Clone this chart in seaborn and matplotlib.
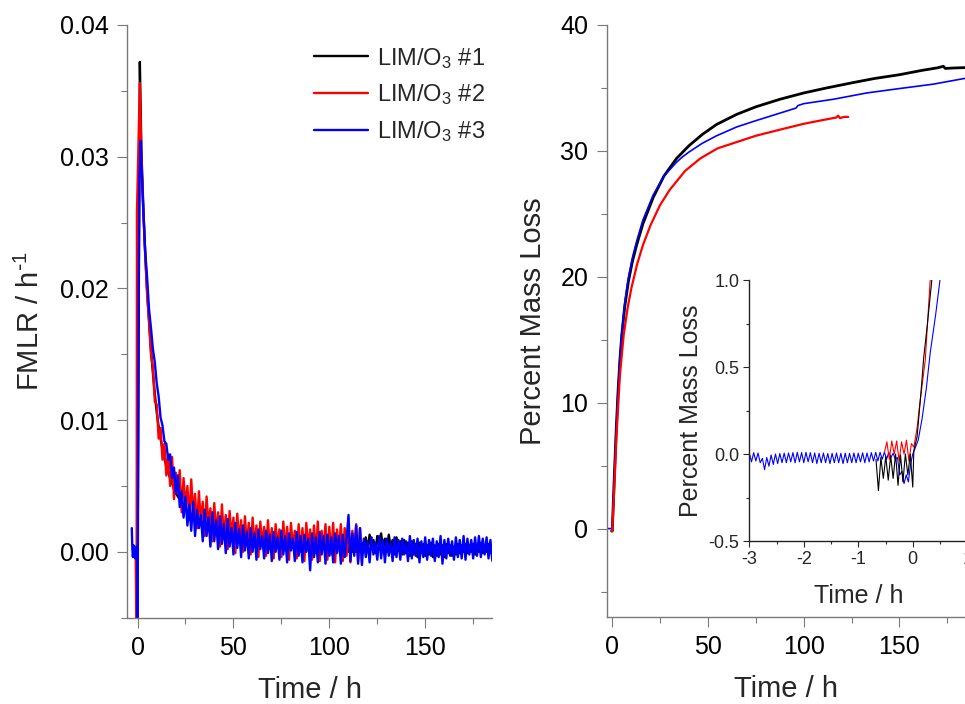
import numpy as np
import pandas as pd
import seaborn as sns
import matplotlib.pyplot as plt
from matplotlib.ticker import MultipleLocator, FormatStrFormatter

sns.set_style("ticks")
plt.rcParams["font.family"] = ["Liberation Sans", "DejaVu Sans"]
plt.rcParams["mathtext.default"] = "regular"
plt.rcParams["axes.unicode_minus"] = False

RUNS = ["LIM/O$_3$ #1", "LIM/O$_3$ #2", "LIM/O$_3$ #3"]
COLORS = ["#000000", "#ff0000", "#0000ff"]

# ---- FMLR (left panel), values in 1e-4 / h ----
# head: irregular points around t = 0, body: one reading per hour from t = 2 h
FMLR1_T_HEAD = [-0.5, 0.0, 1.2]
FMLR1_HEAD = [0, -20, 372]
FMLR1_BODY = [
    305, 262, 226, 198, 174, 153, 136, 120, 106, 95, 86, 78, 71, 65, 60, 56, 52, 48, 45,
    42, 40, 37, 35, 33, 31, 30, 28, 27, 25,
    28, 20, 26, 18, 24, 17, 23, 15, 21, 14, 20, 13, 19, 12, 18, 11, 17, 10, 16, 10,
    15, 9, 15, 8, 14, 8, 13, 7, 13, 7, 12, 6, 12, 6, 11, 5, 11, 5, 11, 4,
    10, 4, 10, 4, 10, 3, 10, 3, 9, 3, 9, 2, 9, 2, 9, 2, 9, 2, 8, 2,
    8, 1, 8, 1, 8, 1, 8, 1, 8, 1, 8, 1, 8, 1, 7, 1, 7, 0, 7, 0,
    7, 0, 7, 0, 7, 0, 7,
    2, 11, 1, 13, 3, 9, -1, 12, 4, 14, 2, 10, 0, 13, 3, 9, -2, 11, 1, 8,
    -2, 9, -1, 7, -3, 8, -2, 6, -4, 7, -1, 6, -3, 5, -2, 7, -4, 5, -3, 6,
    -2, 5, -4, 6, -1, 5, -3, 4, -2, 6, -1, 5, 0, 6, -1, 5, 0, 6, -2, 5,
    0, 7, -1, 5, 0, 6, -1, 4,
]
FMLR2_T_HEAD = [-1.0, -0.5, -0.3, 1.2]
FMLR2_HEAD = [0, -70, 258, 356]
FMLR2_BODY = [
    300, 258, 226, 195, 176, 150, 140, 114, 112, 86, 94, 70, 82, 58, 74, 50, 72, 40, 60,
    44, 62, 30, 56, 34, 50, 24, 55, 28, 44, 18, 46, 22, 38, 12, 42, 20, 33, 8, 37,
    14, 30, 4, 36, 10, 28, 2, 31, 12, 26, -1, 29, 8, 24, 0, 27, 5, 22, -2, 26,
    4, 20, -4, 23, 6, 19, -3, 24, 2, 18, -5, 21, 4, 17, -4, 23, 1, 19, -6, 22,
    3, 16, -5, 21, 0, 18, -7, 22, 2, 17, -6, 20, -1, 23, -7, 16, 3, 21, -6, 19,
    -2, 22, -8, 17, 1, 21, -7, 18, -3, 22, -8, 16, 0, 21, -7, 18, -8,
]
FMLR3_T_HEAD = [-3.0, -2.7, -2.4, -2.1, -1.8, -1.5, -1.2, -0.9, -0.6, -0.3, 0.0, 0.6, 1.0, 1.7]
FMLR3_HEAD = [18, 2, -4, 5, -3, 4, -5, 3, -2, 4, -75, 200, 285, 312]
FMLR3_BODY = [
    295, 260, 228, 208, 184, 170, 154, 144, 128, 118, 102, 96, 84, 82, 70, 74, 56, 64, 44,
    58, 34, 46, 26, 42, 20, 36, 16, 38, 12, 32, 18, 28, 8, 32, 12, 26, 4, 30, 8,
    24, 2, 27, 6, 21, -1, 25, 4, 18, -2, 22, 3, 17, -4, 20, 1, 15, -5, 18, 0,
    14, -6, 17, 2, 12, -5, 16, -1, 13, -7, 15, 0, 11, -6, 16, -2, 12, -8, 14, 1,
    10, -7, 15, -3, 12, -8, 13, 0, 10, -14, 14, -4, 11, -8, 15, -2, 12, -9, 13, -3,
    11, -8, 14, -1, 12, -9, 13, -4, 10, 28, -7, 14, -3, 20, -9, 18, -10,
    10, -4, 8, -8, 11, -2, 7, -6, 12, -5, 9, -8, 10, -3, 7, -7, 11, -4, 9, -6,
    10, -2, 8, -7, 12, -5, 9, -3, 10, -8, 8, -4, 11, -6, 9, -3, 10, -7, 8, -4,
    12, -9, 9, -5, 10, -3, 8, -6, 11, -4, 9, -5, 12, -6, 10, -2, 9, -5, 11, -3,
    12, -4, 10, -2, 11, -5, 9, -7,
]

# ---- cumulative percent mass loss (right panel) ----
ML1_T = [-0.3, 0, 1, 2, 3, 4, 5, 6.5, 8.4, 10.5, 12.7, 16, 21.4, 27, 33.6, 40, 47, 54.5,
         65, 75, 87.6, 100, 112, 125, 137, 150, 162, 170, 173, 174, 178, 185]
ML1 = [-0.2, -0.2, 3.8, 7.6, 10.8, 13.4, 15.4, 17.6, 19.6, 21.2, 22.5, 24.2, 26.3, 28.0,
       29.4, 30.4, 31.3, 32.1, 32.9, 33.5, 34.1, 34.6, 35.0, 35.4, 35.75, 36.05, 36.4,
       36.6, 36.72, 36.55, 36.58, 36.62]
ML2_T = [-0.3, 0, 1, 2.3, 4, 6, 8, 10, 13, 16, 20, 25, 30, 38, 46, 55, 65, 75, 88, 100,
         110, 117, 118, 119, 121, 123.3]
ML2 = [-0.2, -0.2, 3.0, 7.6, 12.2, 15.4, 17.5, 19.1, 21.0, 22.5, 24.1, 25.7, 26.9, 28.4,
       29.4, 30.2, 30.7, 31.2, 31.7, 32.15, 32.45, 32.65, 32.8, 32.6, 32.7, 32.7]
ML3_T = [-3.0, -0.3, 0, 1, 2, 3, 4, 5, 6.5, 8.4, 10.5, 12.7, 16, 21.4, 27, 33.6, 36.5, 40,
         47, 54.5, 65, 75, 87.6, 96, 97, 100, 115.5, 132.9, 150, 167.7, 185]
ML3 = [0.0, 0.0, -0.2, 3.8, 7.6, 10.9, 13.5, 15.6, 17.9, 19.9, 21.5, 22.8, 24.5, 26.5,
       28.0, 29.1, 29.5, 29.9, 30.6, 31.2, 31.9, 32.4, 33.0, 33.4, 33.6, 33.75, 34.1,
       34.6, 34.95, 35.3, 35.78]

# ---- inset: percent mass loss around t = 0 ----
INSET1_T = [-0.675, -0.63, -0.585, -0.54, -0.495, -0.45, -0.405, -0.36, -0.315, -0.27,
            -0.225, -0.18, -0.135, -0.09, -0.045, 0.0, 0.02, 0.08, 0.15, 0.2, 0.27, 0.35, 0.4]
INSET1 = [-0.03, -0.21, -0.02, -0.14, -0.015, -0.15, -0.01, -0.14, 0.0, -0.18, -0.005,
          -0.16, 0.0, -0.12, 0.0, -0.19, 0.02, 0.1, 0.35, 0.55, 0.75, 1.0, 1.15]
INSET2_T = [-0.52, -0.475, -0.43, -0.385, -0.34, -0.295, -0.25, -0.205, -0.16, -0.115,
            -0.07, -0.025, 0.02, 0.08, 0.13, 0.23, 0.32, 0.38]
INSET2 = [0.01, 0.07, -0.03, 0.075, 0.0, 0.075, -0.04, 0.07, 0.0, 0.08, -0.04, 0.06,
          0.04, 0.15, 0.29, 0.54, 1.0, 1.15]
INSET3_T_TAIL = [0.0, 0.04, 0.1, 0.17, 0.25, 0.32, 0.42, 0.5, 0.6]
INSET3_TAIL = [0.0, 0.03, 0.08, 0.2, 0.38, 0.58, 0.8, 1.0, 1.2]
INSET3_STEADY = [  # readings every 0.04 h from -3.00 h
    0.005, -0.045, 0.008, -0.04, 0.006, -0.05, -0.025, -0.09, -0.02, -0.07,
    -0.005, -0.06, 0.0, -0.055, 0.003, -0.05, 0.005, -0.05, 0.006, -0.045,
    0.008, -0.05, 0.01, -0.045, 0.008, -0.05, 0.01, -0.045, 0.008, -0.05,
    0.006, -0.055, 0.004, -0.05, 0.006, -0.05, 0.003, -0.055, 0.004, -0.05,
    0.006, -0.05, 0.004, -0.055, 0.005, -0.05, 0.004, -0.05, 0.006, -0.05,
    0.005, -0.045, 0.007, -0.05, 0.006, -0.045, 0.008, -0.04, 0.01, -0.04,
    0.01, -0.03, 0.012, -0.03, 0.01, -0.02, 0.005, -0.03, -0.02, -0.12,
    -0.1, -0.17, -0.12, -0.16, -0.06,
]


def long_frame(series):
    parts = []
    for run, t, v in series:
        parts.append(pd.DataFrame({"time": t, "value": v, "run": run}))
    return pd.concat(parts, ignore_index=True)


def body_times(body):
    return list(range(2, 2 + len(body)))


fmlr = long_frame([
    (RUNS[0], FMLR1_T_HEAD + body_times(FMLR1_BODY), np.array(FMLR1_HEAD + FMLR1_BODY) * 1e-4),
    (RUNS[1], FMLR2_T_HEAD + body_times(FMLR2_BODY), np.array(FMLR2_HEAD + FMLR2_BODY) * 1e-4),
    (RUNS[2], FMLR3_T_HEAD + body_times(FMLR3_BODY), np.array(FMLR3_HEAD + FMLR3_BODY) * 1e-4),
])
mass = long_frame([(RUNS[0], ML1_T, ML1), (RUNS[2], ML3_T, ML3), (RUNS[1], ML2_T, ML2)])
inset_t3 = list(np.round(-3.0 + 0.04 * np.arange(len(INSET3_STEADY)), 3)) + INSET3_T_TAIL
inset = long_frame([(RUNS[2], inset_t3, INSET3_STEADY + INSET3_TAIL),
                    (RUNS[1], INSET2_T, INSET2), (RUNS[0], INSET1_T, INSET1)])
palette = dict(zip(RUNS, COLORS))

fig = plt.figure(figsize=(9.65, 7.04), dpi=100)
ax1 = fig.add_axes([0.1316, 0.1226, 0.3786, 0.8419])
ax2 = fig.add_axes([0.6285, 0.1240, 0.3729, 0.8405])
ax3 = fig.add_axes([0.7765, 0.2315, 0.2258, 0.3707])

sns.lineplot(data=fmlr, x="time", y="value", hue="run", palette=palette, hue_order=RUNS,
             estimator=None, sort=False, lw=1.7, legend=False, ax=ax1)
sns.lineplot(data=mass, x="time", y="value", hue="run", palette=palette,
             hue_order=[RUNS[0], RUNS[2], RUNS[1]], estimator=None, sort=False,
             size="run", sizes={RUNS[0]: 2.0, RUNS[1]: 1.6, RUNS[2]: 1.2}, legend=False, ax=ax2)
sns.lineplot(data=inset, x="time", y="value", hue="run", palette=palette,
             hue_order=[RUNS[2], RUNS[1], RUNS[0]], estimator=None, sort=False,
             lw=0.8, legend=False, ax=ax3)

grey = "#7a7a7a"
for ax in (ax1, ax2, ax3):
    sns.despine(ax=ax)
    ax.tick_params(which="both", direction="out", width=0.8)

for ax in (ax1, ax2):
    for s in ("left", "bottom"):
        ax.spines[s].set_color(grey)
        ax.spines[s].set_linewidth(1.0)
    ax.tick_params(which="major", length=7, colors=grey, labelcolor="black", labelsize=18, pad=6)
    ax.tick_params(which="minor", length=4, colors=grey)
    ax.set_xlim(-5.5, 185)
    ax.xaxis.set_major_locator(MultipleLocator(50))
    ax.xaxis.set_minor_locator(MultipleLocator(25))
    ax.set_xlabel("Time / h", fontsize=21, labelpad=12)

ax1.set_ylim(-0.005, 0.04)
ax1.yaxis.set_major_locator(MultipleLocator(0.01))
ax1.yaxis.set_minor_locator(MultipleLocator(0.005))
ax1.yaxis.set_major_formatter(FormatStrFormatter("%.2f"))
ax1.set_ylabel("FMLR / h$^{\\text{-}1}$", fontsize=21, labelpad=11)
handles = ax1.get_lines()[:3]
ax1.legend(handles, RUNS, loc="upper left", bbox_to_anchor=(0.512, 0.965), frameon=False,
           fontsize=17, handlelength=2.3, handletextpad=0.35, labelspacing=0.5,
           borderpad=0, borderaxespad=0)

ax2.set_xlim(-3, 185)
ax2.set_ylim(-7, 40)
ax2.yaxis.set_major_locator(MultipleLocator(10))
ax2.yaxis.set_minor_locator(MultipleLocator(5))
ax2.set_ylabel("Percent Mass Loss", fontsize=21, labelpad=10)

ax3.set_facecolor("white")
for s in ("left", "bottom"):
    ax3.spines[s].set_color("#222222")
    ax3.spines[s].set_linewidth(1.0)
ax3.set_xlim(-3, 1)
ax3.set_ylim(-0.5, 1.0)
ax3.xaxis.set_major_locator(MultipleLocator(1))
ax3.xaxis.set_minor_locator(MultipleLocator(0.5))
ax3.yaxis.set_major_locator(MultipleLocator(0.5))
ax3.yaxis.set_minor_locator(MultipleLocator(0.25))
ax3.yaxis.set_major_formatter(FormatStrFormatter("%.1f"))
ax3.tick_params(which="major", length=4, labelsize=13, pad=3)
ax3.tick_params(which="minor", length=2.5)
ax3.set_xlabel("Time / h", fontsize=18, labelpad=12)
ax3.set_ylabel("Percent Mass Loss", fontsize=18, labelpad=4)

fig.savefig("out.png", dpi=100)
